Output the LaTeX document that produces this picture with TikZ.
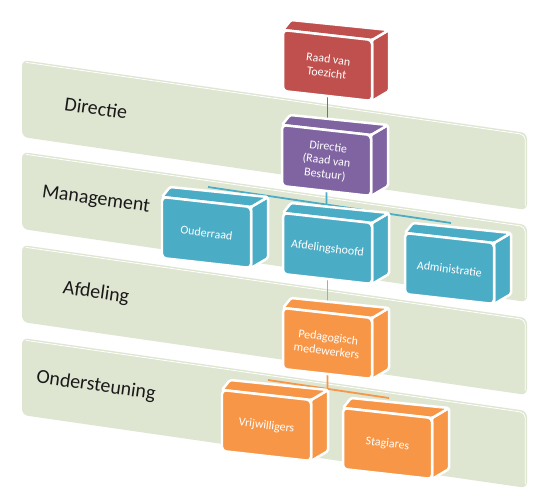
\documentclass[tikz,border=0pt]{standalone}
\usepackage{fontspec}
\setmainfont{Carlito}
\usepackage{xcolor}
\usepackage{tikz}
\usetikzlibrary{backgrounds}

\definecolor{lanegreen}{RGB}{222,230,210}
\definecolor{raadred}{RGB}{192,80,77}
\definecolor{dirpurple}{RGB}{128,100,162}
\definecolor{mgmtcyan}{RGB}{75,172,198}
\definecolor{afdorange}{RGB}{247,150,70}

\begin{document}
\begin{tikzpicture}[x=1bp, y=-1bp,
  lane/.style={fill=lanegreen, rounded corners=6},
  laneedge/.style={draw=white, line width=0.8pt, rounded corners=5},
  lanetext/.style={font=\fontsize{20}{24}\selectfont, text=black!90, rotate=-8},
  cubeface/.style={draw=white, line width=2.5pt, line join=round, rounded corners=1.5},
  cubetext/.style={font=\fontsize{12}{14}\selectfont, text=white, align=center, rotate=-7},
  link/.style={line width=1.8pt}]
  \useasboundingbox (0,0) rectangle (537,496);
  \def\lane#1#2#3{%
    \fill[lane] (22,#2) -- (527,#2+73) -- (527,#2+150) -- (22,#2+77) -- cycle;
    \draw[laneedge] (26,#2+2.4) -- (525.2,#2+74.6) -- (525.2,#2+146);
    \node[lanetext] (#1) at (96,#2+48) {#3};
  }
  \def\orgcube#1#2#3#4#5{%
    \filldraw[cubeface, fill=#4] (#2+89,#3+10) -- ++(17,-10) -- ++(0,61) -- ++(-17,10) -- cycle;
    \filldraw[cubeface, fill=#4] (#2,#3) -- ++(8,-10) -- ++(98,10) -- ++(-17,10) -- cycle;
    \filldraw[cubeface, fill=#4, rounded corners=4] (#2,#3) -- ++(89,10) -- ++(0,61) -- ++(-89,-10) -- cycle;
    \node[cubetext] (#1) at (#2+44.5,#3+36) {#5};
    \coordinate (#1-top)  at (#2+44.5,#3+5);
    \coordinate (#1-bot)  at (#2+44.5,#3+66);
    \coordinate (#1-back) at (#2+46,#3-10);
  }

  \orgcube{raad}{283}{30}{raadred}{Raad van\\Toezicht}
  \orgcube{directie}{282}{125}{dirpurple}{Directie\\(Raad van\\Bestuur)}
  \orgcube{ouderraad}{162}{197}{mgmtcyan}{Ouderraad}
  \orgcube{afdhoofd}{283}{213}{mgmtcyan}{Afdelingshoofd}
  \orgcube{administratie}{405}{233}{mgmtcyan}{Administratie}
  \orgcube{pedagog}{283}{308}{afdorange}{Pedagogisch\\medewerkers}
  \orgcube{vrijw}{222}{390}{afdorange}{Vrijwilligers}
  \orgcube{stag}{343}{408}{afdorange}{Stagiares}

  \begin{scope}[on background layer]
    \lane{dirlane}{60}{Directie}
    \lane{mgmtlane}{152}{Management}
    \lane{afdlane}{245}{Afdeling}
    \lane{steunlane}{338}{Ondersteuning}
    % lijnen
    \coordinate (mgmt-j)  at (intersection of directie-top--directie-bot and ouderraad-back--administratie-back);
    \coordinate (steun-j) at (intersection of pedagog-top--pedagog-bot and vrijw-back--stag-back);
    \draw[link, dirpurple] (raad-bot) -- (raad-bot |- directie-top);
    \draw[link, mgmtcyan] (directie-bot) -- (mgmt-j);
    \draw[link, mgmtcyan] (ouderraad-back) -- (administratie-back);
    \draw[link, afdorange] (afdhoofd-bot) -- (afdhoofd-bot |- pedagog-top);
    \draw[link, afdorange] (pedagog-bot) -- (steun-j);
    \draw[link, afdorange] (vrijw-back) -- (stag-back);
  \end{scope}
\end{tikzpicture}
\end{document}
